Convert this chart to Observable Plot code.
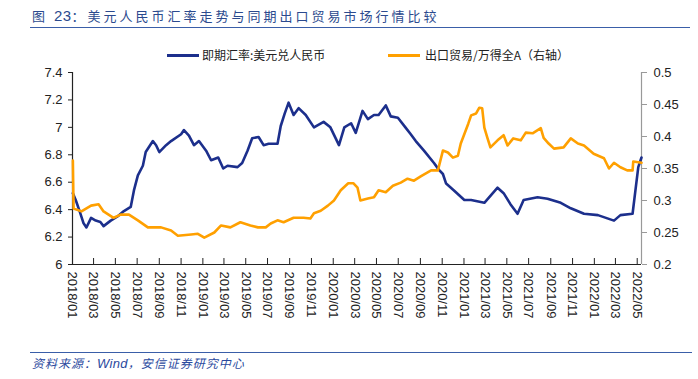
<!DOCTYPE html>
<html>
<head>
<meta charset="utf-8">
<script src="https://cdn.jsdelivr.net/npm/d3@7"></script>
<script src="https://cdn.jsdelivr.net/npm/@observablehq/plot@0.6"></script>
<style>
  html, body { margin: 0; padding: 0; background: #fff; }
  #wrap { position: relative; width: 698px; height: 379px; overflow: hidden;
          font-family: "Liberation Sans", Arial, "Noto Sans CJK SC", sans-serif; }
  #title { position: absolute; left: 30px; top: 6px; width: 660px; height: 22px;
           border-bottom: 1.5px solid #3a5ea8; color: #2b4a8e;
           font-family: "Noto Sans CJK SC", sans-serif; font-size: 13px; letter-spacing: 3px;
           line-height: 20px; padding-left: 2px; box-sizing: border-box; }
  #title .num { font-family: "Liberation Sans", Arial, sans-serif; font-size: 15px; letter-spacing: 0.5px; }
  .leg { position: absolute; top: 47px; font-size: 12px; color: #222; line-height: 16px;
         font-family: "Noto Sans CJK SC", sans-serif; white-space: nowrap; }
  .leg i { position: absolute; top: 7px; height: 3px; width: 32px; }
  #chart { position: absolute; left: 0; top: 62px; }
  #footer { position: absolute; left: 30px; top: 352px; width: 660px; border-top: 1.5px solid #3a5ea8;
            color: #2b4a9e; font-style: italic; font-size: 12px; padding-left: 2px; line-height: 20px;
            font-family: "Noto Sans CJK SC", sans-serif; letter-spacing: 1px; }
  #footer .w { font-family: "Liberation Sans", Arial, sans-serif; font-size: 13px; letter-spacing: 0.3px; }
</style>
</head>
<body>
<div id="wrap">
  <div id="title">图 <span class="num">23</span>：美元人民币汇率走势与同期出口贸易市场行情比较</div>
  <div class="leg" style="left:167px;"><i style="left:0;background:#1c2f8c;"></i><span style="margin-left:35px;">即期汇率:美元兑人民币</span></div>
  <div class="leg" style="left:388px;"><i style="left:0;background:#ffa000;"></i><span style="margin-left:37px;">出口贸易/万得全A（右轴）</span></div>
  <div id="chart"></div>
  <div id="footer">资料来源：<span class="w">Wind</span>，安信证券研究中心</div>
</div>
<script>
// ---- Data ----
const fxDates = [
  "2018-01-02","2018-01-10","2018-01-22","2018-02-01","2018-02-09","2018-02-22","2018-03-07","2018-03-20",
  "2018-03-29","2018-04-18","2018-05-07","2018-05-25","2018-06-13","2018-06-22","2018-07-03","2018-07-17",
  "2018-07-25","2018-08-14","2018-08-23","2018-09-01","2018-09-20","2018-10-04","2018-11-01","2018-11-09",
  "2018-11-23","2018-12-07","2018-12-21","2019-01-10","2019-01-24","2019-02-13","2019-02-27","2019-03-11",
  "2019-04-08","2019-04-21","2019-05-06","2019-05-19","2019-06-06","2019-06-20","2019-07-04","2019-07-29",
  "2019-08-07","2019-08-18","2019-08-29","2019-09-12","2019-09-26","2019-10-16","2019-11-08","2019-12-05",
  "2019-12-24","2020-01-17","2020-02-01","2020-02-20","2020-03-04","2020-03-23","2020-04-07","2020-04-24",
  "2020-05-07","2020-05-27","2020-06-10","2020-06-30","2020-07-21","2020-08-05","2020-08-19","2020-09-11",
  "2020-10-09","2020-10-23","2020-11-03","2020-11-12","2020-12-04","2021-01-02","2021-01-21","2021-02-27",
  "2021-04-05","2021-04-22","2021-05-11","2021-05-31","2021-06-17","2021-07-26","2021-08-23","2021-09-29",
  "2021-10-27","2021-12-03","2022-01-11","2022-02-25","2022-03-15","2022-04-18","2022-04-26","2022-05-04",
  "2022-05-13"
];
const fxValues = [
  6.52,6.47,6.38,6.30,6.27,6.34,6.32,6.31,
  6.28,6.32,6.35,6.39,6.42,6.54,6.65,6.72,
  6.82,6.90,6.87,6.82,6.87,6.90,6.95,6.98,
  6.94,6.87,6.90,6.83,6.76,6.78,6.70,6.72,
  6.71,6.74,6.83,6.92,6.93,6.87,6.88,6.88,
  7.01,7.10,7.18,7.09,7.14,7.09,7.00,7.04,
  7.00,6.87,7.00,7.03,6.96,7.12,7.06,7.09,
  7.09,7.16,7.08,7.07,7.00,6.95,6.90,6.83,
  6.74,6.69,6.66,6.59,6.54,6.47,6.47,6.45,
  6.56,6.52,6.44,6.37,6.47,6.49,6.48,6.45,
  6.41,6.37,6.36,6.32,6.36,6.37,6.54,6.71,
  6.78
];
const tradeDates = [
  "2018-01-02","2018-01-04","2018-01-26","2018-02-22","2018-03-15","2018-03-29","2018-04-26","2018-05-16",
  "2018-06-08","2018-07-03","2018-07-31","2018-09-06","2018-10-04","2018-10-23","2018-11-29","2018-12-18",
  "2019-01-05","2019-02-02","2019-02-21","2019-03-19","2019-04-16","2019-05-14","2019-06-04","2019-06-26",
  "2019-07-10","2019-07-29","2019-08-15","2019-09-12","2019-10-10","2019-10-29","2019-11-08","2019-11-27",
  "2019-12-17","2020-01-03","2020-01-22","2020-02-12","2020-02-26","2020-03-09","2020-03-17","2020-04-07",
  "2020-04-24","2020-05-07","2020-05-27","2020-06-16","2020-07-08","2020-07-27","2020-08-14","2020-09-03",
  "2020-10-01","2020-10-20","2020-11-03","2020-11-17","2020-12-01","2020-12-15","2020-12-23","2021-01-13",
  "2021-01-21","2021-02-04","2021-02-13","2021-02-21","2021-02-27","2021-03-08","2021-03-16","2021-04-05",
  "2021-04-22","2021-05-03","2021-05-19","2021-06-09","2021-06-23","2021-07-12","2021-08-04","2021-08-12",
  "2021-08-26","2021-09-10","2021-10-07","2021-10-27","2021-11-16","2021-12-03","2021-12-30","2022-01-28",
  "2022-02-11","2022-02-25","2022-03-15","2022-04-03","2022-04-18","2022-04-20","2022-05-13"
];
const tradeValues = [
  0.3625,0.2875,0.283,0.292,0.294,0.283,0.273,0.278,
  0.278,0.269,0.258,0.258,0.253,0.245,0.247,0.248,
  0.242,0.250,0.261,0.258,0.266,0.261,0.258,0.258,
  0.264,0.269,0.266,0.273,0.273,0.272,0.280,0.284,
  0.292,0.300,0.316,0.327,0.327,0.320,0.300,0.303,
  0.305,0.316,0.313,0.323,0.328,0.334,0.331,0.338,
  0.347,0.347,0.378,0.375,0.367,0.370,0.389,0.420,
  0.433,0.436,0.445,0.444,0.414,0.397,0.383,0.394,
  0.402,0.386,0.397,0.394,0.406,0.405,0.413,0.398,
  0.389,0.381,0.383,0.397,0.389,0.386,0.373,0.366,
  0.350,0.359,0.352,0.347,0.347,0.361,0.359
];
const leftTicks = [6, 6.2, 6.4, 6.6, 6.8, 7, 7.2, 7.4];
const rightTicks = [0.2, 0.25, 0.3, 0.35, 0.4, 0.45, 0.5];
const xTickLabels = [
  "2018/01","2018/03","2018/05","2018/07","2018/09","2018/11","2019/01","2019/03","2019/05","2019/07",
  "2019/09","2019/11","2020/01","2020/03","2020/05","2020/07","2020/09","2020/11","2021/01","2021/03",
  "2021/05","2021/07","2021/09","2021/11","2022/01","2022/03","2022/05"
];
const seriesNames = ["即期汇率:美元兑人民币", "出口贸易/万得全A（右轴）"];

// ---- Build ----
const parse = d3.utcParse("%Y-%m-%d");
const fx = fxDates.map((d, i) => ({date: parse(d), value: fxValues[i]}));
const trade = tradeDates.map((d, i) => ({date: parse(d), value: tradeValues[i]}));
const xTicks = xTickLabels.map(s => d3.utcParse("%Y/%m")(s));
const xStart = parse("2018-01-01"), xEnd = parse("2022-05-13");

const L0 = 6, L1 = 7.4, R0 = 0.2, R1 = 0.5;
const toLeft = v => L0 + (v - R0) / (R1 - R0) * (L1 - L0);
const toRight = v => R0 + (v - L0) / (L1 - L0) * (R1 - R0);

const chart = Plot.plot({
  width: 698,
  height: 270,
  marginTop: 10,
  marginBottom: 68,
  marginLeft: 72,
  marginRight: 57,
  style: {fontFamily: "'Liberation Sans', Arial, sans-serif", fontSize: "13px", color: "#222", background: "transparent"},
  x: {type: "utc", domain: [xStart, xEnd]},
  y: {domain: [L0, L1]},
  marks: [
    Plot.axisX({ticks: xTicks, tickFormat: d3.utcFormat("%Y/%m"), tickRotate: 90, tickSize: 0, tickPadding: 7, label: null}),
    Plot.ruleX(xTicks, {insetTop: 186, stroke: "#222"}),
    Plot.axisY({ticks: leftTicks, tickFormat: d => String(+d.toFixed(1)), tickSize: 4, tickPadding: 6, label: null, stroke: "#222"}),
    Plot.axisY(rightTicks.map(toLeft), {anchor: "right", tickFormat: d => String(+toRight(d).toFixed(2)), tickSize: 5, tickPadding: 7, label: null, stroke: "#999"}),
    Plot.ruleX([xEnd], {stroke: "#999", strokeWidth: 1.2}),
    Plot.ruleX([xStart], {stroke: "#222", strokeWidth: 1.2}),
    Plot.ruleY([L0], {stroke: "#222", strokeWidth: 1.2}),
    Plot.line(fx, {x: "date", y: "value", stroke: "#1c2f8c", strokeWidth: 2.6, title: () => seriesNames[0]}),
    Plot.line(trade, {x: "date", y: d => toLeft(d.value), stroke: "#ffa000", strokeWidth: 2.6, title: () => seriesNames[1]})
  ]
});
document.getElementById("chart").appendChild(chart);
</script>
</body>
</html>
